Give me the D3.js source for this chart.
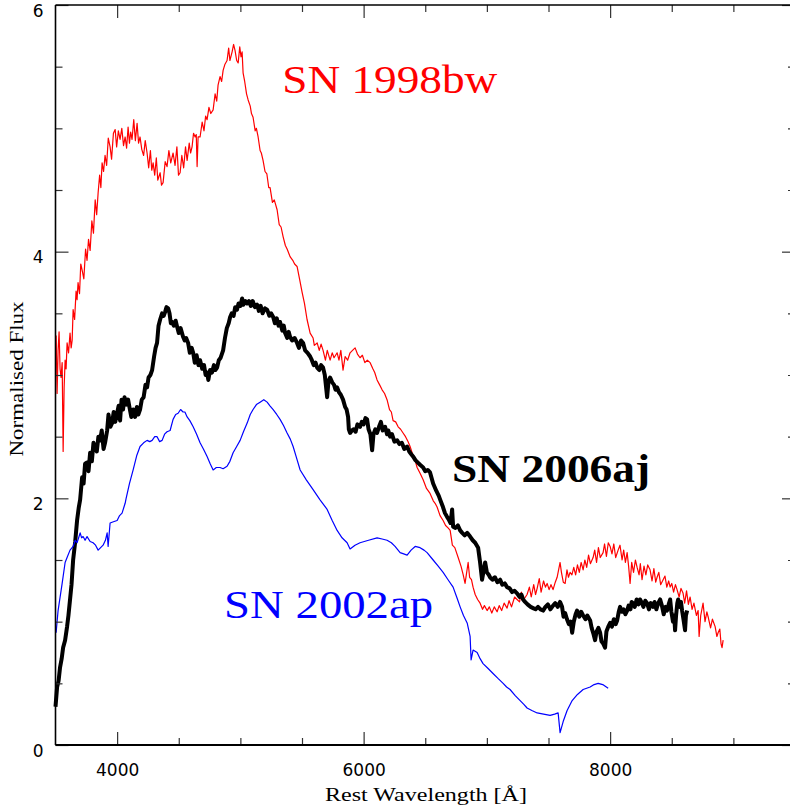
<!DOCTYPE html>
<html>
<head>
<meta charset="utf-8">
<script src="https://cdn.jsdelivr.net/npm/d3@7"></script>
<style>
  body { margin: 0; background: #fff; }
</style>
</head>
<body>
<div id="chart"></div>
<script>
// spectra: [rest wavelength (A), normalised flux]
const sn1998bw = [
  [3505,3.32],[3513,2.85],[3521,3.20],[3529,3.35],[3537,3.05],[3545,2.98],[3554,3.10],[3562,2.38],
  [3570,2.90],[3578,3.12],[3586,3.05],[3594,3.26],[3606,3.18],[3618,3.34],[3627,3.22],[3635,3.28],
  [3643,3.53],[3655,3.45],[3667,3.68],[3675,3.61],[3683,3.75],[3695,3.66],[3705,3.90],[3716,3.85],
  [3730,3.78],[3744,4.02],[3756,3.93],[3768,4.10],[3781,4.01],[3795,4.25],[3808,4.15],[3822,4.42],
  [3834,4.30],[3846,4.48],[3858,4.62],[3868,4.52],[3878,4.72],[3890,4.65],[3902,4.78],[3915,4.70],
  [3928,4.92],[3943,4.85],[3955,4.75],[3970,4.96],[3984,4.99],[3996,4.85],[4010,4.98],[4024,4.91],
  [4038,5.00],[4052,4.86],[4065,4.93],[4077,4.84],[4089,5.01],[4100,4.88],[4110,4.97],[4121,4.91],
  [4135,5.07],[4148,4.90],[4162,5.04],[4174,4.88],[4186,4.93],[4200,4.83],[4215,4.78],[4228,4.90],
  [4243,4.80],[4256,4.68],[4270,4.82],[4281,4.66],[4292,4.72],[4305,4.62],[4318,4.76],[4330,4.58],
  [4349,4.64],[4360,4.54],[4373,4.56],[4390,4.73],[4405,4.69],[4420,4.82],[4435,4.72],[4454,4.80],
  [4470,4.70],[4485,4.85],[4498,4.62],[4511,4.64],[4525,4.78],[4540,4.68],[4555,4.85],[4568,4.74],
  [4585,4.88],[4596,4.80],[4608,4.85],[4620,4.96],[4633,4.93],[4642,4.95],[4649,4.69],[4657,4.93],
  [4673,4.93],[4690,5.05],[4705,4.98],[4718,5.10],[4730,5.07],[4745,5.17],[4760,5.12],[4779,5.15],
  [4795,5.28],[4808,5.22],[4819,5.35],[4835,5.42],[4848,5.38],[4860,5.47],[4875,5.52],[4892,5.55],
  [4905,5.65],[4915,5.55],[4933,5.62],[4945,5.68],[4957,5.63],[4970,5.55],[4982,5.53],[4995,5.66],
  [5005,5.58],[5014,5.62],[5022,5.45],[5035,5.38],[5050,5.28],[5063,5.23],[5080,5.18],[5090,5.12],
  [5103,5.09],[5120,4.98],[5130,5.00],[5144,4.93],[5160,4.82],[5170,4.80],[5184,4.74],[5200,4.65],
  [5215,4.63],[5230,4.52],[5241,4.52],[5260,4.40],[5275,4.42],[5298,4.34],[5315,4.22],[5330,4.20],
  [5347,4.12],[5365,4.05],[5380,4.02],[5403,3.96],[5425,3.93],[5440,3.90],[5460,3.88],[5480,3.78],
  [5501,3.67],[5520,3.58],[5541,3.45],[5566,3.34],[5590,3.30],[5600,3.24],[5623,3.26],[5640,3.20],
  [5655,3.25],[5671,3.20],[5690,3.12],[5705,3.20],[5728,3.12],[5745,3.18],[5760,3.14],[5785,3.18],
  [5800,3.12],[5815,3.20],[5833,3.04],[5850,3.15],[5870,3.12],[5890,3.18],[5910,3.20],[5931,3.22],
  [5950,3.17],[5971,3.14],[5990,3.16],[6010,3.10],[6030,3.12],[6053,3.10],[6075,3.05],[6090,3.02],
  [6109,2.96],[6130,2.92],[6150,2.88],[6170,2.85],[6190,2.80],[6210,2.72],[6225,2.70],[6239,2.63],
  [6260,2.62],[6280,2.58],[6300,2.56],[6320,2.53],[6340,2.50],[6360,2.46],[6377,2.42],[6400,2.35],
  [6420,2.30],[6434,2.25],[6460,2.20],[6483,2.15],[6510,2.08],[6539,2.04],[6565,1.98],[6580,1.96],
  [6596,1.93],[6620,1.86],[6645,1.82],[6665,1.78],[6685,1.76],[6702,1.74],[6720,1.62],[6740,1.60],
  [6767,1.52],[6790,1.45],[6808,1.38],[6823,1.31],[6848,1.48],[6860,1.36],[6875,1.34],[6888,1.28],
  [6905,1.22],[6925,1.18],[6945,1.15],[6965,1.10],[6980,1.13],[7002,1.09],[7020,1.12],[7040,1.07],
  [7060,1.12],[7083,1.08],[7100,1.13],[7120,1.09],[7140,1.15],[7164,1.11],[7180,1.17],[7200,1.12],
  [7225,1.20],[7245,1.18],[7265,1.16],[7280,1.24],[7300,1.18],[7326,1.22],[7345,1.28],[7360,1.20],
  [7380,1.30],[7395,1.22],[7408,1.27],[7425,1.35],[7440,1.24],[7460,1.33],[7475,1.28],[7489,1.31],
  [7505,1.26],[7520,1.30],[7537,1.26],[7555,1.32],[7570,1.36],[7594,1.48],[7605,1.40],[7620,1.32],
  [7635,1.31],[7650,1.42],[7662,1.36],[7675,1.40],[7690,1.38],[7705,1.44],[7720,1.38],[7735,1.46],
  [7750,1.40],[7765,1.48],[7781,1.42],[7795,1.50],[7810,1.44],[7825,1.54],[7840,1.47],[7862,1.52],
  [7875,1.58],[7890,1.48],[7905,1.60],[7920,1.52],[7943,1.56],[7955,1.63],[7970,1.53],[7985,1.64],
  [8000,1.61],[8015,1.55],[8030,1.63],[8045,1.52],[8065,1.58],[8080,1.62],[8097,1.50],[8110,1.58],
  [8124,1.48],[8138,1.56],[8150,1.45],[8162,1.31],[8175,1.48],[8190,1.40],[8205,1.50],[8219,1.44],
  [8235,1.38],[8245,1.47],[8259,1.34],[8275,1.45],[8290,1.38],[8305,1.46],[8324,1.42],[8340,1.33],
  [8355,1.43],[8370,1.32],[8381,1.36],[8395,1.40],[8410,1.30],[8430,1.34],[8445,1.37],[8460,1.28],
  [8475,1.33],[8487,1.28],[8500,1.31],[8515,1.24],[8530,1.30],[8543,1.26],[8560,1.20],[8575,1.27],
  [8592,1.23],[8605,1.15],[8620,1.25],[8635,1.14],[8649,1.20],[8665,1.10],[8680,1.15],[8700,1.05],
  [8714,1.09],[8722,0.88],[8735,1.05],[8754,1.15],[8770,1.00],[8785,1.08],[8795,1.04],[8815,0.95],
  [8830,1.02],[8852,0.96],[8866,0.88],[8876,0.91],[8890,0.94],[8900,0.82],[8908,0.79],[8917,0.85]
];

const sn2006aj = [
  [3500,0.31],[3513,0.47],[3525,0.52],[3537,0.63],[3550,0.70],[3562,0.79],[3578,0.85],[3594,0.96],
  [3605,1.05],[3618,1.18],[3630,1.30],[3643,1.50],[3660,1.65],[3675,1.82],[3688,1.92],[3700,1.99],
  [3716,2.17],[3728,2.12],[3740,2.28],[3756,2.29],[3768,2.22],[3781,2.37],[3795,2.30],[3808,2.45],
  [3821,2.42],[3835,2.38],[3848,2.50],[3862,2.47],[3875,2.55],[3890,2.40],[3902,2.45],[3919,2.55],
  [3930,2.68],[3945,2.58],[3959,2.61],[3972,2.70],[3985,2.62],[4000,2.69],[4012,2.75],[4024,2.63],
  [4036,2.80],[4048,2.72],[4060,2.82],[4075,2.76],[4089,2.80],[4100,2.74],[4115,2.66],[4130,2.72],
  [4146,2.66],[4160,2.74],[4172,2.68],[4186,2.72],[4200,2.80],[4215,2.82],[4230,2.92],[4243,2.90],
  [4255,2.98],[4270,3.00],[4284,3.04],[4300,3.15],[4312,3.22],[4324,3.26],[4336,3.40],[4349,3.45],
  [4365,3.50],[4378,3.48],[4389,3.51],[4400,3.55],[4414,3.54],[4425,3.50],[4436,3.42],[4446,3.43],
  [4460,3.40],[4475,3.44],[4487,3.39],[4500,3.34],[4515,3.38],[4535,3.31],[4548,3.28],[4560,3.30],
  [4576,3.26],[4590,3.18],[4605,3.22],[4617,3.18],[4630,3.10],[4645,3.16],[4660,3.08],[4673,3.12],
  [4690,3.05],[4705,3.08],[4718,3.00],[4730,3.02],[4740,2.96],[4754,3.04],[4770,3.02],[4785,3.08],
  [4797,3.04],[4811,3.06],[4825,3.12],[4840,3.14],[4860,3.20],[4875,3.30],[4890,3.38],[4905,3.42],
  [4917,3.47],[4930,3.50],[4945,3.48],[4958,3.55],[4973,3.53],[4985,3.58],[5000,3.56],[5014,3.62],
  [5025,3.57],[5040,3.60],[5055,3.58],[5070,3.60],[5085,3.56],[5100,3.60],[5118,3.55],[5136,3.57],
  [5150,3.52],[5165,3.56],[5180,3.50],[5200,3.54],[5217,3.53],[5235,3.48],[5250,3.50],[5266,3.47],
  [5280,3.42],[5295,3.46],[5310,3.40],[5322,3.43],[5340,3.36],[5352,3.40],[5363,3.34],[5380,3.30],
  [5392,3.35],[5403,3.31],[5420,3.28],[5440,3.30],[5460,3.26],[5475,3.22],[5492,3.28],[5509,3.26],
  [5525,3.20],[5545,3.18],[5566,3.15],[5580,3.12],[5595,3.08],[5610,3.10],[5623,3.06],[5640,3.04],
  [5655,3.08],[5671,3.06],[5685,3.00],[5704,2.82],[5715,2.95],[5728,2.98],[5745,2.94],[5760,2.92],
  [5772,2.88],[5785,2.90],[5800,2.86],[5815,2.84],[5833,2.80],[5850,2.74],[5862,2.72],[5874,2.66],
  [5880,2.56],[5890,2.53],[5905,2.55],[5920,2.56],[5935,2.54],[5950,2.60],[5971,2.58],[5985,2.62],
  [6000,2.60],[6015,2.65],[6028,2.64],[6040,2.56],[6055,2.52],[6069,2.39],[6080,2.52],[6095,2.56],
  [6109,2.53],[6125,2.58],[6140,2.62],[6155,2.55],[6174,2.58],[6190,2.52],[6200,2.55],[6215,2.50],
  [6230,2.52],[6250,2.46],[6272,2.47],[6290,2.44],[6310,2.45],[6330,2.40],[6353,2.42],[6370,2.38],
  [6385,2.36],[6401,2.34],[6420,2.31],[6440,2.29],[6460,2.27],[6483,2.25],[6500,2.22],[6520,2.23],
  [6539,2.21],[6564,2.12],[6590,2.06],[6610,2.02],[6621,1.99],[6640,1.94],[6660,1.88],[6677,1.85],
  [6690,1.83],[6705,1.80],[6718,1.91],[6726,1.77],[6745,1.76],[6765,1.78],[6783,1.74],[6800,1.72],
  [6820,1.70],[6840,1.72],[6864,1.69],[6885,1.66],[6905,1.64],[6929,1.60],[6945,1.48],[6961,1.34],
  [6975,1.42],[6986,1.48],[7000,1.40],[7015,1.38],[7026,1.36],[7045,1.34],[7065,1.36],[7085,1.32],
  [7108,1.34],[7125,1.30],[7145,1.31],[7164,1.28],[7185,1.27],[7205,1.24],[7225,1.25],[7245,1.23],
  [7265,1.20],[7280,1.22],[7294,1.18],[7310,1.16],[7330,1.14],[7355,1.12],[7375,1.11],[7395,1.10],
  [7415,1.12],[7435,1.10],[7456,1.09],[7475,1.12],[7495,1.14],[7515,1.10],[7537,1.13],[7555,1.15],
  [7575,1.12],[7594,1.16],[7610,1.12],[7622,1.04],[7635,1.07],[7650,1.02],[7665,0.98],[7680,1.00],
  [7692,0.91],[7705,1.00],[7720,1.06],[7732,1.09],[7750,1.04],[7765,1.08],[7781,1.05],[7800,1.02],
  [7815,1.05],[7838,1.01],[7850,0.95],[7865,0.90],[7878,0.85],[7890,0.92],[7905,0.95],[7919,0.91],
  [7930,0.84],[7945,0.82],[7959,0.79],[7970,0.92],[7985,0.96],[8000,0.99],[8015,0.96],[8030,1.02],
  [8045,0.98],[8057,1.01],[8070,1.08],[8081,1.12],[8095,1.08],[8110,1.10],[8124,1.06],[8138,1.09],
  [8150,1.13],[8165,1.10],[8175,1.16],[8187,1.15],[8200,1.12],[8215,1.18],[8230,1.14],[8243,1.18],
  [8258,1.15],[8270,1.12],[8285,1.17],[8300,1.15],[8315,1.10],[8330,1.15],[8349,1.12],[8360,1.16],
  [8375,1.10],[8390,1.15],[8406,1.18],[8420,1.13],[8435,1.06],[8450,1.12],[8462,1.09],[8475,1.14],
  [8487,1.18],[8497,1.08],[8510,1.00],[8520,1.05],[8527,0.93],[8535,1.05],[8545,1.15],[8552,1.18],
  [8565,1.12],[8575,1.16],[8584,1.09],[8595,1.02],[8608,0.93],[8615,1.05],[8625,1.09]
];

const sn2002ap = [
  [3505,0.91],[3521,1.09],[3554,1.31],[3578,1.48],[3594,1.52],[3618,1.58],[3643,1.61],[3660,1.66],
  [3675,1.64],[3700,1.72],[3712,1.68],[3724,1.69],[3740,1.66],[3756,1.69],[3781,1.65],[3805,1.64],
  [3825,1.62],[3846,1.58],[3866,1.60],[3886,1.62],[3905,1.66],[3919,1.72],[3927,1.61],[3943,1.80],
  [3970,1.81],[4000,1.82],[4020,1.86],[4040,1.88],[4065,1.96],[4073,2.00],[4100,2.12],[4130,2.23],
  [4160,2.35],[4186,2.42],[4215,2.45],[4243,2.47],[4265,2.46],[4284,2.47],[4305,2.50],[4324,2.50],
  [4345,2.46],[4365,2.47],[4385,2.52],[4405,2.54],[4430,2.55],[4454,2.64],[4475,2.68],[4495,2.69],
  [4515,2.72],[4535,2.70],[4550,2.70],[4568,2.66],[4590,2.63],[4617,2.58],[4645,2.52],[4673,2.45],
  [4700,2.40],[4730,2.34],[4755,2.28],[4779,2.23],[4805,2.25],[4835,2.25],[4860,2.24],[4892,2.26],
  [4915,2.30],[4941,2.37],[4970,2.42],[4998,2.47],[5025,2.54],[5055,2.61],[5080,2.68],[5103,2.72],
  [5130,2.76],[5160,2.78],[5190,2.80],[5217,2.78],[5240,2.75],[5266,2.72],[5295,2.68],[5322,2.64],
  [5350,2.59],[5379,2.53],[5405,2.48],[5428,2.42],[5455,2.33],[5485,2.23],[5535,2.15],[5590,2.07],
  [5645,1.99],[5704,1.91],[5745,1.82],[5785,1.74],[5825,1.68],[5866,1.64],[5890,1.59],[5930,1.62],
  [5971,1.64],[6040,1.66],[6109,1.68],[6150,1.67],[6190,1.66],[6225,1.64],[6255,1.61],[6296,1.56],
  [6325,1.55],[6353,1.54],[6385,1.58],[6418,1.61],[6458,1.60],[6490,1.58],[6515,1.56],[6564,1.50],
  [6605,1.45],[6645,1.40],[6685,1.34],[6726,1.28],[6755,1.20],[6783,1.12],[6810,1.05],[6840,0.99],
  [6864,0.88],[6872,0.69],[6888,0.77],[6921,0.75],[6945,0.70],[6969,0.66],[7010,0.62],[7050,0.58],
  [7090,0.54],[7132,0.50],[7160,0.47],[7188,0.45],[7230,0.40],[7270,0.36],[7300,0.33],[7326,0.30],
  [7365,0.28],[7408,0.26],[7460,0.25],[7513,0.24],[7550,0.25],[7578,0.26],[7594,0.10],[7619,0.19],
  [7651,0.28],[7692,0.36],[7735,0.41],[7781,0.45],[7838,0.47],[7870,0.49],[7903,0.50],[7940,0.49],
  [7984,0.46]
];

const seriesNames = ["SN 1998bw", "SN 2006aj", "SN 2002ap"];
const seriesColors = ["#ff0000", "#000000", "#0000ff"];

const xMajor = [4000, 6000, 8000];
const xMinor = [4500, 5000, 5500, 6500, 7000, 7500, 8500, 9000];
const yMajor = [0, 2, 4, 6];
const yMinor = [0.5, 1, 1.5, 2.5, 3, 3.5, 4.5, 5, 5.5];

const width = 790, height = 807;
const mLeft = 55.5, mRight = 795, mTop = 5, mBottom = 745;

const svg = d3.select("#chart").append("svg")
    .attr("width", width)
    .attr("height", height);

const x = d3.scaleLinear().domain([3500, 9500]).range([mLeft, mRight]);
const y = d3.scaleLinear().domain([0, 6]).range([mBottom, mTop]);

// spectra
const line = d3.line()
    .x(d => x(d[0]))
    .y(d => y(d[1]));

const spectra = [sn1998bw, sn2006aj, sn2002ap];
const widths = [1.2, 4, 1.2];
spectra.forEach((s, i) => {
  svg.append("path")
      .datum(s)
      .attr("fill", "none")
      .attr("stroke", seriesColors[i])
      .attr("stroke-width", widths[i])
      .attr("stroke-linejoin", "round")
      .attr("d", line);
});

// axes, ticks pointing inward
function addAxis(axis, tx, ty) {
  const g = svg.append("g")
      .attr("transform", "translate(" + tx + "," + ty + ")")
      .call(axis);
  g.select(".domain").remove();
  g.selectAll(".tick line").attr("stroke", "#333").attr("stroke-width", 1.2);
  return g;
}

addAxis(d3.axisBottom(x).tickValues(xMinor).tickSize(-7).tickFormat(""), 0, mBottom);
addAxis(d3.axisTop(x).tickValues(xMinor).tickSize(-7).tickFormat(""), 0, mTop);
addAxis(d3.axisTop(x).tickValues(xMajor).tickSize(-13).tickFormat(""), 0, mTop);
const xAx = addAxis(d3.axisBottom(x).tickValues(xMajor).tickSize(-13).tickFormat(d3.format("d")), 0, mBottom);
xAx.selectAll(".tick text")
    .attr("y", 31).attr("dy", null)
    .style("font-family", "DejaVu Sans, sans-serif")
    .style("font-size", "17px")
    .attr("fill", "#000");

addAxis(d3.axisLeft(y).tickValues(yMinor).tickSize(-7).tickFormat(""), mLeft, 0);
addAxis(d3.axisRight(y).tickValues(yMinor).tickSize(-7).tickFormat(""), mRight, 0);
addAxis(d3.axisRight(y).tickValues(yMajor).tickSize(-13).tickFormat(""), mRight, 0);
const yAx = addAxis(d3.axisLeft(y).tickValues(yMajor).tickSize(-13).tickFormat(d3.format("d")), mLeft, 0);
yAx.selectAll(".tick text")
    .attr("x", -12).attr("dy", "11px")
    .style("font-family", "DejaVu Sans, sans-serif")
    .style("font-size", "17px")
    .attr("fill", "#000");

// frame
svg.append("line").attr("x1", mLeft).attr("x2", mLeft).attr("y1", mTop).attr("y2", mBottom)
    .attr("stroke", "#000").attr("stroke-width", 1.6);
svg.append("line").attr("x1", mLeft).attr("x2", mRight).attr("y1", mBottom).attr("y2", mBottom)
    .attr("stroke", "#000").attr("stroke-width", 2.2);
svg.append("line").attr("x1", mLeft).attr("x2", mRight).attr("y1", mTop).attr("y2", mTop)
    .attr("stroke", "#000").attr("stroke-width", 1.6);

// axis titles
svg.append("text")
    .attr("x", 426).attr("y", 801)
    .attr("text-anchor", "middle")
    .attr("textLength", 202).attr("lengthAdjust", "spacingAndGlyphs")
    .style("font-family", "Liberation Serif, serif")
    .style("font-size", "19px")
    .text("Rest Wavelength [Å]");

svg.append("text")
    .attr("transform", "translate(23,379) rotate(-90)")
    .attr("text-anchor", "middle")
    .attr("textLength", 155).attr("lengthAdjust", "spacingAndGlyphs")
    .style("font-family", "Liberation Serif, serif")
    .style("font-size", "19px")
    .text("Normalised Flux");

// spectrum labels
const labelPos = [[5340, 5.29, 215, "normal"], [6718, 2.13, 198, "bold"], [4868, 1.03, 209, "normal"]];
seriesNames.forEach((name, i) => {
  const p = labelPos[i];
  svg.append("text")
      .attr("x", x(p[0])).attr("y", y(p[1]))
      .attr("textLength", p[2]).attr("lengthAdjust", "spacingAndGlyphs")
      .style("font-family", "Liberation Serif, serif")
      .style("font-size", "40px")
      .style("font-weight", p[3])
      .attr("fill", seriesColors[i])
      .text(name);
});
</script>
</body>
</html>
